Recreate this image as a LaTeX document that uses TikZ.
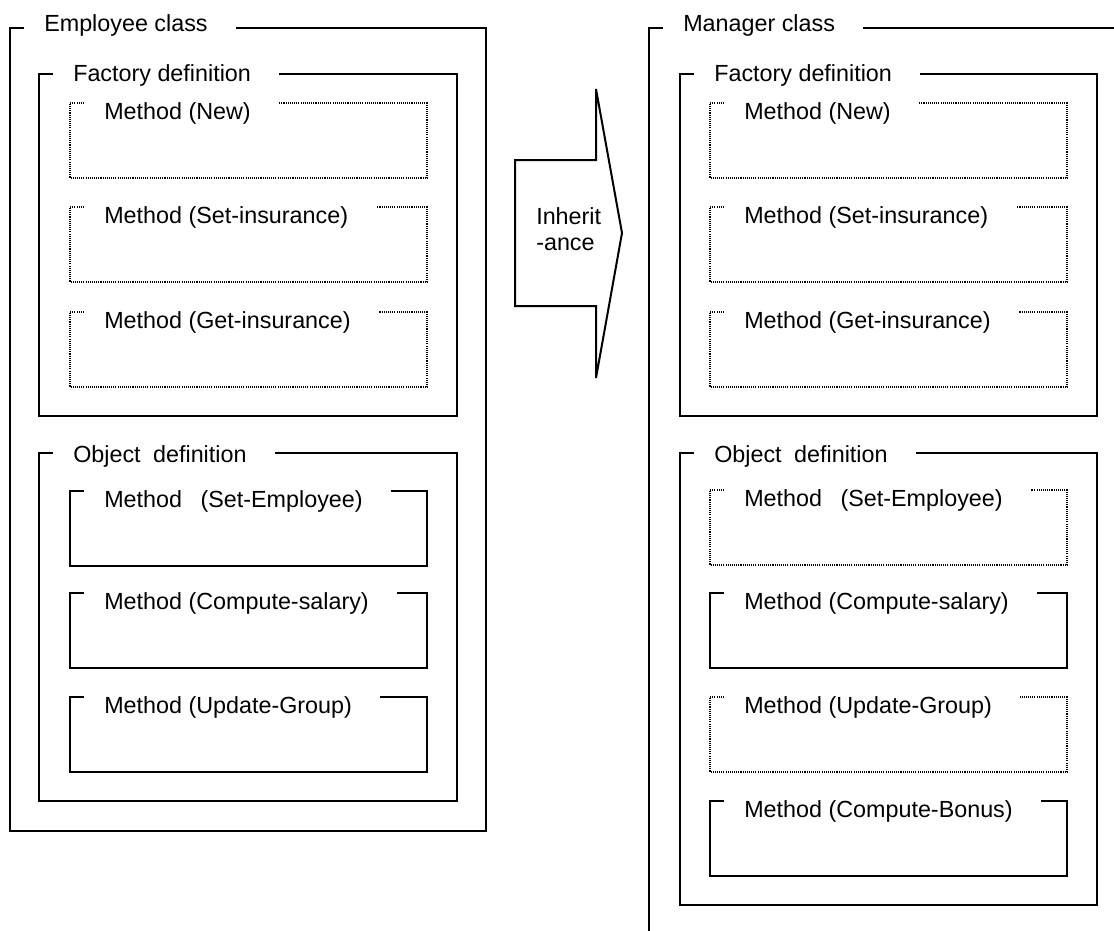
\documentclass[tikz,border=0pt]{standalone}
\usepackage{fontspec}
\setmainfont{Liberation Sans}
\usetikzlibrary{calc}

% box with its title set into the top line
\newcommand{\grpbox}[8]{%
  \node[ttl,anchor=base west] (#1) at (#3+14,#4+#7) {#8};
  \coordinate (#1-c) at (#3,#4);
  \coordinate (#1-r) at ([xshift=6pt]#1.east);
  \draw[#2] (#1.west |- #1-c) -- (#1-c) -- (#3,#6) -- (#5,#6) -- (#5,#4) -- (#1-r |- #1-c);
}

\begin{document}
\begin{tikzpicture}[x=0.75pt,y=-0.75pt,
    every node/.style={font=\fontsize{17.5}{20}\selectfont},
    ttl/.style={inner xsep=15pt,inner ysep=0pt},
    solidbox/.style={line width=1.5pt},
    dotbox/.style={line width=1.1pt,dash pattern=on 0.8pt off 0.8pt}]
  \useasboundingbox (0,0) rectangle (1114,931);
  % Employee class
  \grpbox{emp}{solidbox}{10}{28}{486}{831}{4}{Employee class}
  \grpbox{efac}{solidbox}{39}{74}{457}{416}{8}{Factory definition}
  \foreach \nm/\st/\tp/\txt in {enew/dotbox/103/Method (New),eseti/dotbox/207/Method (Set-insurance),egeti/dotbox/312/Method (Get-insurance)}
    {\grpbox{\nm}{\st}{70}{\tp}{427}{\tp+75}{16}{\txt}}
  \grpbox{eobj}{solidbox}{39}{453}{457}{801}{9}{Object\hspace{4.5pt} definition}
  \foreach \nm/\st/\tp/\txt in {esete/solidbox/491/Method\hspace{9pt} (Set-Employee),ecomp/solidbox/593/Method (Compute-salary),eupd/solidbox/697/Method (Update-Group)}
    {\grpbox{\nm}{\st}{70}{\tp}{427}{\tp+75}{16}{\txt}}
  % inheritance arrow
  \draw[solidbox] (515,160) -- (596,160) -- (596,89) -- (622,233) -- (596,378) -- (596,306) -- (515,306) -- cycle;
  \node[anchor=west,align=left,inner sep=0pt] (inh) at (536,229) {Inherit\\-ance};
  % Manager class (runs off the page at right and bottom)
  \node[ttl,anchor=base west] (mgr) at (663,32) {Manager class};
  \coordinate (mgr-c) at (649,28);
  \coordinate (mgr-r) at ([xshift=6pt]mgr.east);
  \draw[solidbox] (mgr.west |- mgr-c) -- (mgr-c) -- (649,931);
  \draw[solidbox] (mgr-r |- mgr-c) -- (1114,28);
  \grpbox{mfac}{solidbox}{680}{74}{1097}{416}{8}{Factory definition}
  \foreach \nm/\st/\tp/\txt in {mnew/dotbox/103/Method (New),mseti/dotbox/207/Method (Set-insurance),mgeti/dotbox/312/Method (Get-insurance)}
    {\grpbox{\nm}{\st}{710}{\tp}{1067}{\tp+75}{16}{\txt}}
  \grpbox{mobj}{solidbox}{680}{453}{1097}{905}{9}{Object\hspace{4.5pt} definition}
  \foreach \nm/\st/\tp/\txt in {msete/dotbox/490/Method\hspace{9pt} (Set-Employee),mcomp/solidbox/593/Method (Compute-salary),mupd/dotbox/697/Method (Update-Group),mbon/solidbox/801/Method (Compute-Bonus)}
    {\grpbox{\nm}{\st}{710}{\tp}{1067}{\tp+75}{16}{\txt}}
\end{tikzpicture}
\end{document}
